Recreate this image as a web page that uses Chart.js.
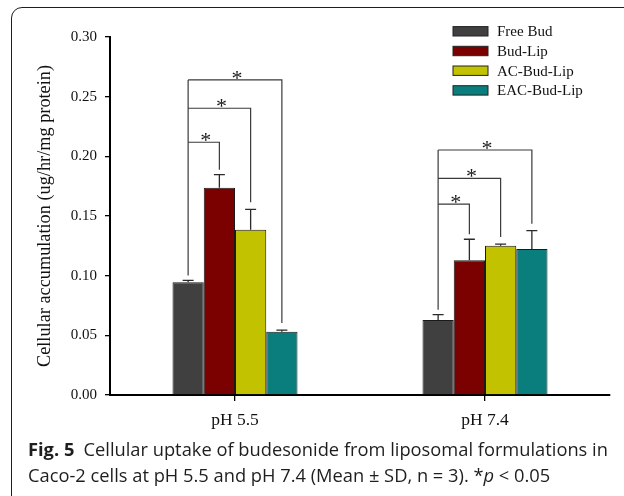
<!DOCTYPE html>
<html>
<head>
<meta charset="utf-8">
<script src="https://cdn.jsdelivr.net/npm/chart.js@4.4.1/dist/chart.umd.min.js"></script>
<style>
  html, body { margin: 0; padding: 0; background: #fff; }
  #wrap { position: relative; width: 624px; height: 496px; overflow: hidden; }
  #frame { position: absolute; left: 11px; top: 7px; width: 700px; height: 600px;
           border: 1.5px solid #1e1e1e; border-top-left-radius: 11px; box-sizing: border-box; }
  canvas { position: absolute; left: 0; top: 0; }
  .cap { position: absolute; left: 28px; font-family: "Open Sans", sans-serif; font-size: 18.3px;
         color: #1e1e1e; white-space: nowrap; line-height: 1; }
  .cap b { font-weight: 700; }
</style>
</head>
<body>
<div id="wrap">
  <div id="frame"></div>
  <canvas id="c" width="624" height="496"></canvas>
  <div class="cap" id="cap1" style="top:440px"><b>Fig. 5</b>&ensp;Cellular uptake of budesonide from liposomal formulations in</div>
  <div class="cap" id="cap2" style="top:466px">Caco-2 cells at pH 5.5 and pH 7.4 (Mean ± SD, n = 3). *<i>p</i> &lt; 0.05</div>
</div>
<script>
const categories = ['pH 5.5', 'pH 7.4'];
const seriesNames = ['Free Bud', 'Bud-Lip', 'AC-Bud-Lip', 'EAC-Bud-Lip'];
const freeBud    = [0.0944, 0.0628];
const budLip     = [0.1737, 0.1129];
const acBudLip   = [0.1385, 0.1251];
const eacBudLip  = [0.0530, 0.1223];
const freeBudSD   = [0.0016, 0.0045];
const budLipSD    = [0.0109, 0.0176];
const acBudLipSD  = [0.0171, 0.0014];
const eacBudLipSD = [0.0014, 0.0154];
const yTicks = [0.00, 0.05, 0.10, 0.15, 0.20, 0.25, 0.30];
// significance bracket heights (data units), per category: vs Bud-Lip, vs AC-Bud-Lip, vs EAC-Bud-Lip
const bracketLevels = [[0.2118, 0.2403, 0.2640], [0.1600, 0.1816, 0.2053]];

const colors = ['#404040', '#7b0000', '#c2c200', '#0a7d7d'];
const values = [freeBud, budLip, acBudLip, eacBudLip];
const sds = [freeBudSD, budLipSD, acBudLipSD, eacBudLipSD];

const serif = '"Liberation Serif", "Times New Roman", serif';

const errorBars = {
  id: 'errorBars',
  afterDatasetsDraw(chart) {
    const ctx = chart.ctx, y = chart.scales.y;
    ctx.save();
    ctx.strokeStyle = '#2a2a2a';
    ctx.lineWidth = 1.3;
    chart.data.datasets.forEach((ds, di) => {
      const meta = chart.getDatasetMeta(di);
      meta.data.forEach((bar, i) => {
        const top = y.getPixelForValue(ds.data[i] + ds.sd[i]);
        ctx.beginPath();
        ctx.moveTo(bar.x, bar.y);
        ctx.lineTo(bar.x, top);
        ctx.moveTo(bar.x - 5.5, top);
        ctx.lineTo(bar.x + 5.5, top);
        ctx.stroke();
      });
    });
    // brackets
    ctx.strokeStyle = '#3a3a3a';
    ctx.lineWidth = 1.2;
    ctx.fillStyle = '#1a1a1a';
    ctx.font = '22px ' + serif;
    ctx.textAlign = 'center';
    ctx.textBaseline = 'alphabetic';
    const ds0 = chart.data.datasets[0];
    const m0 = chart.getDatasetMeta(0);
    const gap = 5;
    categories.forEach((c, i) => {
      const x0 = m0.data[i].x;
      const bottom0 = y.getPixelForValue(ds0.data[i] + ds0.sd[i]) - gap;
      const levels = bracketLevels[i];
      const topMost = y.getPixelForValue(Math.max(...levels));
      ctx.beginPath();
      ctx.moveTo(x0, bottom0);
      ctx.lineTo(x0, topMost);
      ctx.stroke();
      levels.forEach((lv, k) => {
        const dk = chart.data.datasets[k + 1];
        const xk = chart.getDatasetMeta(k + 1).data[i].x;
        const ly = y.getPixelForValue(lv);
        const bk = y.getPixelForValue(dk.data[i] + dk.sd[i]) - (k === 0 ? gap : gap + 2);
        ctx.beginPath();
        ctx.moveTo(x0, ly);
        ctx.lineTo(xk, ly);
        ctx.lineTo(xk, bk);
        ctx.stroke();
        ctx.fillText('*', (x0 + xk) / 2 + 2, ly + 5);
      });
    });
    ctx.restore();
  }
};

const legendBox = {
  id: 'legendBox',
  afterDraw(chart) {
    const ctx = chart.ctx;
    ctx.save();
    ctx.font = '15px ' + serif;
    ctx.textAlign = 'left';
    ctx.textBaseline = 'middle';
    chart.data.datasets.forEach((ds, i) => {
      const cy = 31.3 + i * 19.7;
      ctx.fillStyle = ds.backgroundColor;
      ctx.fillRect(453, cy - 4.7, 35, 9.4);
      ctx.strokeStyle = '#222';
      ctx.lineWidth = 1;
      ctx.strokeRect(453, cy - 4.7, 35, 9.4);
      ctx.fillStyle = '#111';
      ctx.fillText(ds.label, 497, cy + 1);
    });
    ctx.restore();
  }
};

new Chart(document.getElementById('c'), {
  type: 'bar',
  data: {
    labels: categories,
    datasets: seriesNames.map((n, i) => ({
      label: n,
      data: values[i],
      sd: sds[i],
      backgroundColor: colors[i],
      borderColor: '#1a1a1a',
      borderWidth: 1,
      categoryPercentage: 0.5,
      barPercentage: 1.0
    }))
  },
  options: {
    responsive: false,
    animation: false,
    layout: { padding: { left: 0, right: 14, top: 37, bottom: 0 } },
    plugins: { legend: { display: false }, tooltip: { enabled: false } },
    scales: {
      x: {
        afterFit(s) { s.height = 101; },
        grid: { display: true, drawOnChartArea: false, drawTicks: true, tickLength: 6, offset: false, color: '#000', lineWidth: 1.3 },
        border: { display: true, color: '#000', width: 2 },
        ticks: { color: '#111', font: { family: serif, size: 17.5 }, padding: 9 }
      },
      y: {
        min: 0, max: 0.30,
        afterFit(s) { s.width = 110; },
        afterBuildTicks(s) { s.ticks = yTicks.map(v => ({ value: v })); },
        grid: { display: true, drawOnChartArea: false, drawTicks: true, tickLength: 5, color: '#000', lineWidth: 1.3 },
        border: { display: true, color: '#000', width: 2 },
        ticks: { color: '#111', font: { family: serif, size: 15 }, padding: 8, callback: v => v.toFixed(2) },
        title: { display: true, text: 'Cellular accumulation (ug/hr/mg protein)', color: '#111',
                 font: { family: serif, size: 18.3 }, padding: { top: 34 } }
      }
    }
  },
  plugins: [errorBars, legendBox]
});
</script>
</body>
</html>
